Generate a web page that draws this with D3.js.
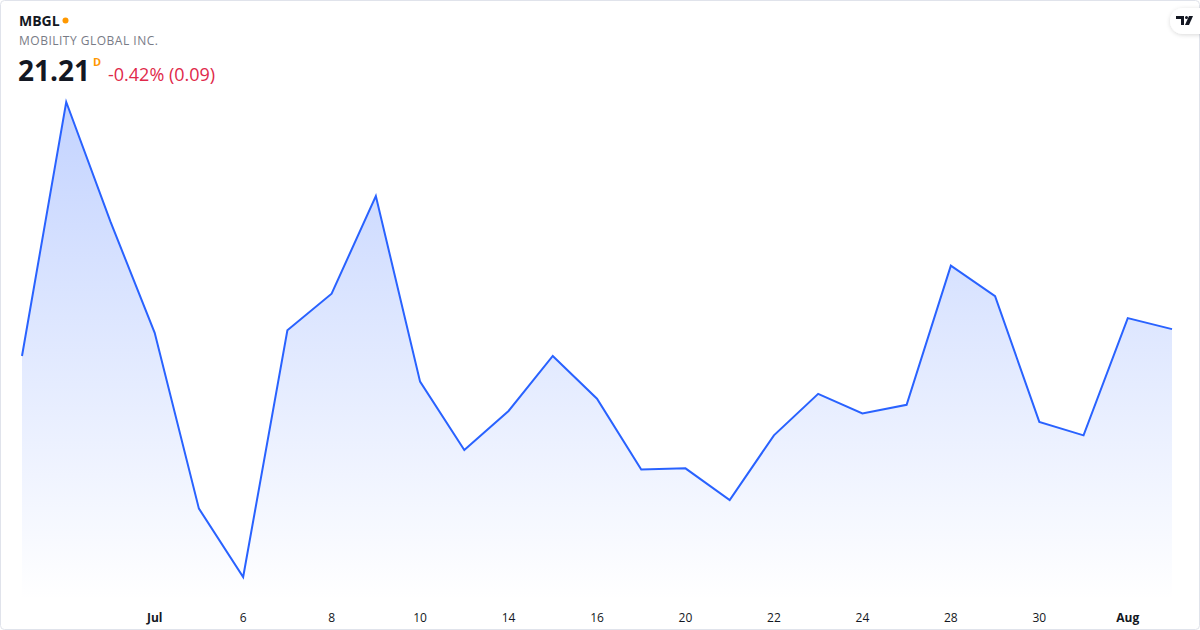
<!DOCTYPE html>
<html><head><meta charset="utf-8">
<script src="https://cdn.jsdelivr.net/npm/d3@7"></script>
<style>
html,body{margin:0;padding:0;background:#fff;}
svg{display:block;font-family:"Open Sans","Noto Sans",sans-serif;}
</style></head>
<body>
<svg id="c" width="1200" height="630"></svg>
<script>
const dates = ["06-28","06-29","06-30","07-01","07-05","07-06","07-07","07-08","07-09","07-10","07-13","07-14","07-15","07-16","07-17","07-20","07-21","07-22","07-23","07-24","07-27","07-28","07-29","07-30","07-31","08-01","08-02"];
const prices = [20.99,23.07,22.09,21.18,19.74,19.18,21.20,21.50,22.30,20.78,20.22,20.54,20.99,20.64,20.06,20.07,19.81,20.34,20.68,20.52,20.59,21.73,21.48,20.45,20.34,21.30,21.21];
const tickDates = ["07-01","07-06","07-08","07-10","07-14","07-16","07-20","07-22","07-24","07-28","07-30","08-01"];
const tickLabels = ["Jul","6","8","10","14","16","20","22","24","28","30","Aug"];
const boldTicks = ["Jul","Aug"];

const svg = d3.select("#c");
const W = 1200, H = 630;

// frame
svg.append("rect").attr("x",0.5).attr("y",0.5).attr("width",W-1).attr("height",H-1)
  .attr("rx",4).attr("fill","#fff").attr("stroke","#e0e3eb");

const x = d3.scalePoint().domain(dates).range([22,1172]);
const y = d3.scaleLinear().domain(d3.extent(prices)).range([577,102]);

const defs = svg.append("defs");
const g = defs.append("linearGradient").attr("id","fillg")
  .attr("gradientUnits","userSpaceOnUse").attr("x1",0).attr("y1",102).attr("x2",0).attr("y2",600);
g.append("stop").attr("offset","0%").attr("stop-color","#2962ff").attr("stop-opacity",0.28);
g.append("stop").attr("offset","100%").attr("stop-color","#2962ff").attr("stop-opacity",0.0);

const area = d3.area().x((d,i)=>x(dates[i])).y0(600).y1(d=>y(d));
svg.append("path").datum(prices).attr("d",area).attr("fill","url(#fillg)");

const line = d3.line().x((d,i)=>x(dates[i])).y(d=>y(d));
svg.append("path").datum(prices).attr("d",line).attr("fill","none")
  .attr("stroke","#2962ff").attr("stroke-width",2).attr("stroke-linejoin","miter");

// x axis labels
const ax = svg.append("g");
tickDates.forEach((d,i)=>{
  ax.append("text").attr("x",x(d)).attr("y",622).attr("text-anchor","middle")
    .attr("font-size",12).attr("fill","#131722")
    .attr("font-weight",boldTicks.includes(tickLabels[i])?700:400)
    .text(tickLabels[i]);
});

// header
svg.append("text").attr("x",19).attr("y",26).attr("font-size",14).attr("font-weight",700).attr("fill","#131722").text("MBGL");
svg.append("circle").attr("cx",65.5).attr("cy",20.5).attr("r",3).attr("fill","#ff9800");
svg.append("text").attr("x",19).attr("y",45).attr("font-size",12).attr("fill","#787b86").attr("letter-spacing",0.5).text("MOBILITY GLOBAL INC.");
svg.append("text").attr("x",18).attr("y",81).attr("font-size",28).attr("font-weight",700).attr("fill","#131722").text("21.21");
svg.append("text").attr("x",93).attr("y",66).attr("font-size",11).attr("font-weight",700).attr("fill","#ff9800").text("D");
svg.append("text").attr("x",108).attr("y",81).attr("font-size",18).attr("fill","#e0294a").text("-0.42% (0.09)");

// logo
const lf = defs.append("filter").attr("id","sh").attr("x","-50%").attr("y","-50%").attr("width","200%").attr("height","200%");
lf.append("feDropShadow").attr("dx",0).attr("dy",1).attr("stdDeviation",2).attr("flood-color","#000").attr("flood-opacity",0.15);
svg.append("rect").attr("x",1170).attr("y",8).attr("width",44).attr("height",26).attr("rx",13).attr("fill","#fff").attr("filter","url(#sh)");
const lg = svg.append("g").attr("transform","translate(1176,16)").attr("fill","#131722");
lg.append("path").attr("d","M0 0 H8 V9 H5 V3 H0 Z");
lg.append("circle").attr("cx",10.5).attr("cy",1.5).attr("r",1.5);
lg.append("path").attr("d","M13 0 H17 L13 9 H9 Z");
</script>
</body></html>
